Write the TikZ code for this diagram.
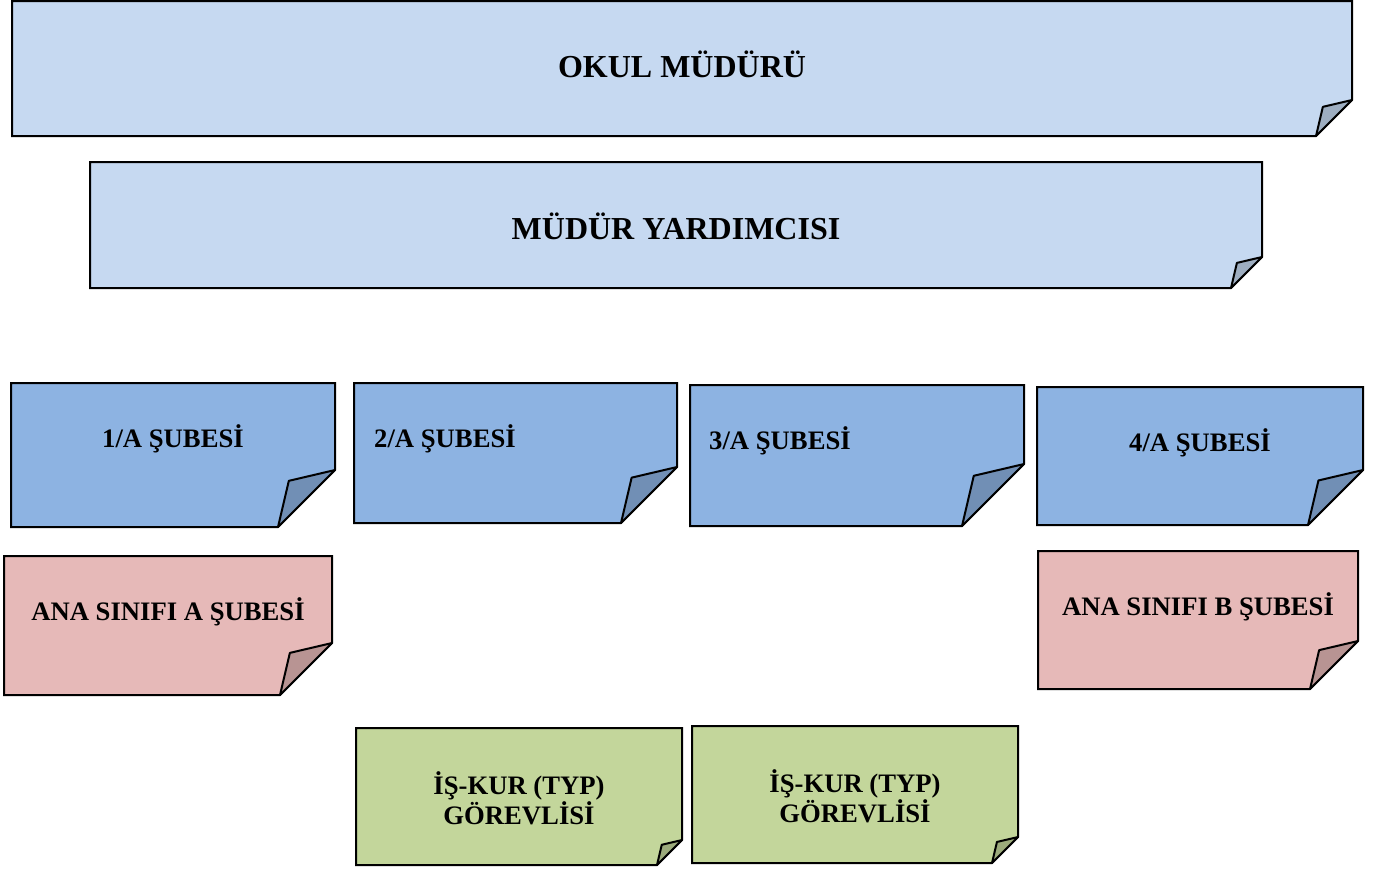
\documentclass[tikz,border=0pt]{standalone}
\usepackage{fontspec}
\setmainfont{Liberation Serif}
\usepackage{tikz}
\definecolor{paleblue}{HTML}{C6D9F1}
\definecolor{midblue}{HTML}{8DB3E2}
\definecolor{rosepink}{HTML}{E6B9B8}
\definecolor{olivegreen}{HTML}{C3D69B}

% folded note: name, left, top, right, bottom, fold size, colour
\newcommand{\notebox}[7]{%
  \draw[line width=1.5pt, fill=#7] (#2,#3) -- (#4,#3) -- (#4,{#5-#6}) -- ({#4-#6},#5) -- (#2,#5) -- cycle;
  \draw[line width=1.5pt, line join=round, fill=#7!80!black] (#4,{#5-#6}) -- ({#4-#6},#5) -- ({#4-0.81*#6},{#5-0.81*#6}) -- cycle;
  \coordinate (#1) at ({(#2+#4)/2},{(#3+#5)/2});
}

\tikzset{
  bigtitle/.style={font=\fontsize{24}{28}\selectfont\bfseries},
  unittitle/.style={font=\fontsize{20}{22.5}\selectfont\bfseries, align=center}
}

\begin{document}
\begin{tikzpicture}[x=0.75pt, y=-0.75pt]
            \useasboundingbox (0,0) rectangle (1384,869);

            \notebox{mudur}{12}{1}{1352}{136}{36}{paleblue}
            \notebox{yardimci}{90}{162}{1262}{288}{31}{paleblue}

            \notebox{sube1}{11}{383}{335}{527}{57}{midblue}
            \notebox{sube2}{354}{383}{677}{523}{56}{midblue}
            \notebox{sube3}{690}{385}{1024}{526}{62}{midblue}
            \notebox{sube4}{1037}{387}{1363}{525}{55}{midblue}

            \notebox{anaA}{4}{556}{332}{695}{52}{rosepink}
            \notebox{anaB}{1038}{551}{1358}{689}{48}{rosepink}

            \notebox{iskur1}{356}{728}{682}{865}{25}{olivegreen}
            \notebox{iskur2}{692}{726}{1018}{863}{26}{olivegreen}

            \node[bigtitle] (mudurtext) at (682,64) {OKUL MÜDÜRÜ};
            \node[bigtitle] (yardimcitext) at (676,226) {MÜDÜR YARDIMCISI};

            \node[unittitle] (sube1text) at (173,439) {1/A ŞUBESİ};
            \node[unittitle] (sube2text) at (445,439) {2/A ŞUBESİ};
            \node[unittitle] (sube3text) at (780,441) {3/A ŞUBESİ};
            \node[unittitle] (sube4text) at (1200,443) {4/A ŞUBESİ};

            \node[unittitle] (anaAtext) at (168,612) {ANA SINIFI A ŞUBESİ};
            \node[unittitle] (anaBtext) at (1198,607) {ANA SINIFI B ŞUBESİ};

            \node[unittitle] (iskur1text) at (519,798) {İŞ-KUR (TYP)\\GÖREVLİSİ};
            \node[unittitle] (iskur2text) at (855,796) {İŞ-KUR (TYP)\\GÖREVLİSİ};
        \end{tikzpicture}
\end{document}
